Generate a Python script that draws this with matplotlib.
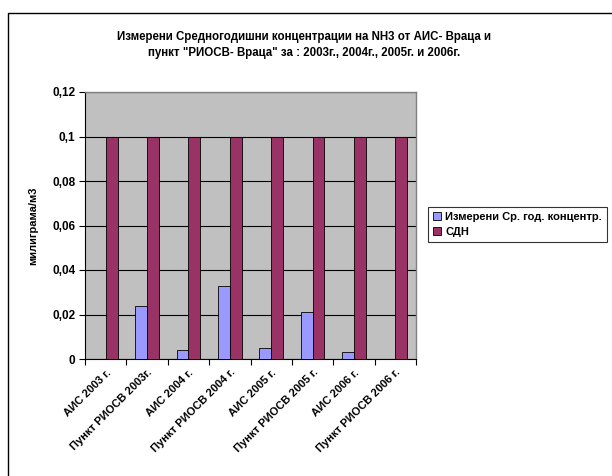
import matplotlib
matplotlib.use("Agg")
import matplotlib.pyplot as plt
import matplotlib.ticker as ticker
from matplotlib.patches import Rectangle
import numpy as np

plt.rcParams["font.family"] = ["Liberation Sans", "DejaVu Sans"]
plt.rcParams["font.weight"] = "bold"

# Данни
categories = ["АИС 2003 г.", "Пункт РИОСВ 2003г.", "АИС 2004 г.", "Пункт РИОСВ 2004 г.",
              "АИС 2005 г.", "Пункт РИОСВ 2005 г.", "АИС 2006 г.", "Пункт РИОСВ 2006 г."]
measured = [0, 0.024, 0.004, 0.033, 0.005, 0.021, 0.003, 0]
sdn = [0.1, 0.1, 0.1, 0.1, 0.1, 0.1, 0.1, 0.1]
y_ticks = [0, 0.02, 0.04, 0.06, 0.08, 0.1, 0.12]
series_names = ["Измерени Ср. год. концентр.", "СДН"]
title = ("Измерени Средногодишни концентрации на NH3 от АИС- Враца и\n"
         "пункт \"РИОСВ- Враца\" за : 2003г., 2004г., 2005г. и 2006г.")

W, H = 612, 476
fig = plt.figure(figsize=(W / 100, H / 100), dpi=100)
fig.patch.set_facecolor("white")

# рамка на диаграмата
fig.add_artist(Rectangle((8 / W, -0.05), 1.0, 1 - 13 / H + 0.05,
                         transform=fig.transFigure, fill=False,
                         edgecolor="black", linewidth=1.0))

ax = fig.add_axes([85 / W, 1 - 359 / H, 331 / W, 267 / H])
ax.set_facecolor("#C0C0C0")

x = np.arange(len(categories))
width = 1 / 3.5
ax.bar(x - width / 2, measured, width=width, color="#9999FF",
       edgecolor="black", linewidth=0.6, label=series_names[0], zorder=3)
ax.bar(x + width / 2, sdn, width=width, color="#993366",
       edgecolor="black", linewidth=0.6, label=series_names[1], zorder=3)

ax.set_xlim(-0.5, len(categories) - 0.5)
ax.set_ylim(0, 0.12)
ax.set_yticks(y_ticks)
ax.yaxis.set_major_formatter(ticker.FuncFormatter(
    lambda v, _: f"{v:g}".replace(".", ",")))
ax.grid(axis="y", color="black", linewidth=0.8, zorder=1)
ax.set_axisbelow(True)

for side in ["top", "right"]:
    ax.spines[side].set_color("#808080")
    ax.spines[side].set_linewidth(1.0)
for side in ["left", "bottom"]:
    ax.spines[side].set_color("black")
    ax.spines[side].set_linewidth(0.8)

ax.set_xticks(x)
ax.set_xticklabels(categories, rotation=45, ha="right", rotation_mode="anchor",
                   fontsize=8, fontweight="bold")
ax.set_xticks(np.arange(len(categories) + 1) - 0.5, minor=True)
ax.tick_params(axis="x", which="major", length=0, pad=6)
ax.tick_params(axis="x", which="minor", length=4, width=0.8, direction="out")
ax.tick_params(axis="y", length=4, width=0.8, direction="out", labelsize=8.5, pad=3)

ax.set_ylabel("милиграма/м3", fontsize=8, fontweight="bold")
ax.yaxis.set_label_coords(-(85 - 38) / 331, 0.5)

fig.text(0.497, 1 - 45 / H, title, ha="center", va="center",
         fontsize=8.3, fontweight="bold", linespacing=1.35)

leg = fig.legend(loc="upper left", bbox_to_anchor=(428 / W, 1 - 207 / H),
                 fontsize=8, frameon=True, fancybox=False, handlelength=0.7,
                 handleheight=0.7, handletextpad=0.4, borderpad=0.45,
                 labelspacing=0.45, borderaxespad=0)
leg.get_frame().set_edgecolor("black")
leg.get_frame().set_linewidth(0.8)
for t in leg.get_texts():
    t.set_fontweight("bold")

fig.savefig("out.png", dpi=100)
